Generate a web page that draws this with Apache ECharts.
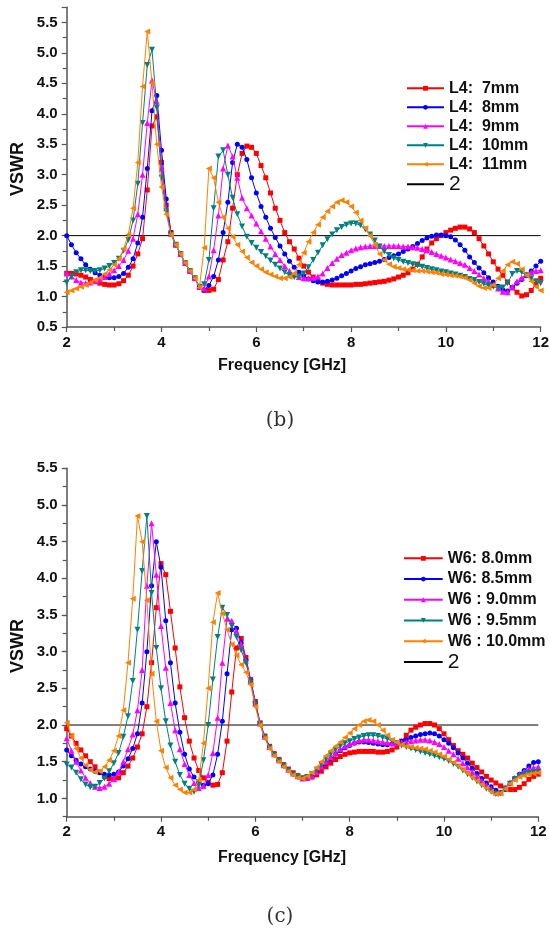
<!DOCTYPE html>
<html><head><meta charset="utf-8">
<script src="https://cdn.jsdelivr.net/npm/echarts@6/dist/echarts.min.js"></script>
<style>html,body{margin:0;padding:0;background:#fff}#c{width:550px;height:929px}</style>
</head><body><div id="c"></div>
<script>
// ---------- data ----------
const freq = [2.0,2.1,2.2,2.3,2.4,2.5,2.6,2.7,2.8,2.9,3.0,3.1,3.2,3.3,3.4,3.5,3.6,3.7,3.8,3.9,4.0,4.1,4.2,4.3,4.4,4.5,4.6,4.7,4.8,4.9,5.0,5.1,5.2,5.3,5.4,5.5,5.6,5.7,5.8,5.9,6.0,6.1,6.2,6.3,6.4,6.5,6.6,6.7,6.8,6.9,7.0,7.1,7.2,7.3,7.4,7.5,7.6,7.7,7.8,7.9,8.0,8.1,8.2,8.3,8.4,8.5,8.6,8.7,8.8,8.9,9.0,9.1,9.2,9.3,9.4,9.5,9.6,9.7,9.8,9.9,10.0,10.1,10.2,10.3,10.4,10.5,10.6,10.7,10.8,10.9,11.0,11.1,11.2,11.3,11.4,11.5,11.6,11.7,11.8,11.9,12.0];
const xTickLabels = [2,4,6,8,10,12];
const yTicksB = [0.5,1.0,1.5,2.0,2.5,3.0,3.5,4.0,4.5,5.0,5.5];
const yTicksC = [1.0,1.5,2.0,2.5,3.0,3.5,4.0,4.5,5.0,5.5];
const refLevel = 2;
const namesB = ['L4:  7mm','L4:  8mm','L4:  9mm','L4:  10mm','L4:  11mm'];
const namesC = ['W6: 8.0mm','W6: 8.5mm','W6 : 9.0mm','W6 : 9.5mm','W6 : 10.0mm'];
const refName = '2';

// (b) VSWR vs frequency for L4
const b_L4_7 = [1.38,1.38,1.37,1.35,1.32,1.28,1.25,1.22,1.20,1.19,1.19,1.21,1.26,1.35,1.50,1.70,1.95,2.75,3.80,3.95,3.20,2.50,2.05,1.85,1.70,1.55,1.42,1.30,1.15,1.10,1.10,1.12,1.28,1.60,1.90,2.45,3.00,3.35,3.47,3.45,3.35,3.15,2.95,2.70,2.45,2.25,2.05,1.90,1.78,1.63,1.50,1.40,1.32,1.26,1.22,1.20,1.19,1.19,1.19,1.19,1.19,1.20,1.20,1.21,1.22,1.23,1.24,1.25,1.27,1.29,1.32,1.35,1.39,1.45,1.53,1.65,1.78,1.88,1.95,2.00,2.05,2.09,2.12,2.14,2.14,2.11,2.05,1.95,1.83,1.70,1.57,1.45,1.35,1.24,1.14,1.07,1.01,1.03,1.10,1.20,1.30];
const b_L4_8 = [2.00,1.85,1.72,1.62,1.52,1.45,1.39,1.35,1.32,1.31,1.31,1.33,1.38,1.48,1.62,1.88,2.30,3.10,4.05,4.30,3.40,2.60,2.05,1.85,1.70,1.55,1.42,1.30,1.16,1.11,1.18,1.33,1.60,2.05,2.55,3.20,3.50,3.45,3.25,2.95,2.70,2.48,2.30,2.12,1.97,1.83,1.70,1.58,1.48,1.40,1.34,1.29,1.26,1.24,1.24,1.25,1.27,1.30,1.34,1.38,1.42,1.46,1.49,1.52,1.54,1.56,1.58,1.61,1.64,1.67,1.70,1.74,1.78,1.82,1.87,1.92,1.96,1.99,2.01,2.01,2.00,1.98,1.93,1.85,1.76,1.65,1.56,1.47,1.39,1.31,1.24,1.17,1.11,1.09,1.15,1.22,1.28,1.34,1.42,1.50,1.58];
const b_L4_9 = [1.38,1.33,1.27,1.23,1.22,1.23,1.25,1.28,1.32,1.37,1.43,1.50,1.60,1.75,1.95,2.35,3.00,3.85,4.55,4.20,3.10,2.45,2.03,1.85,1.70,1.55,1.42,1.30,1.16,1.13,1.33,1.76,2.33,3.10,3.48,3.30,2.95,2.62,2.45,2.33,2.20,2.07,1.95,1.82,1.70,1.60,1.50,1.42,1.36,1.32,1.30,1.30,1.31,1.33,1.38,1.47,1.55,1.62,1.68,1.72,1.76,1.79,1.81,1.82,1.83,1.83,1.83,1.83,1.83,1.83,1.83,1.82,1.82,1.81,1.80,1.78,1.76,1.73,1.70,1.67,1.64,1.61,1.58,1.55,1.52,1.47,1.42,1.36,1.30,1.25,1.19,1.13,1.08,1.07,1.16,1.25,1.31,1.36,1.40,1.42,1.43];
const b_L4_10 = [1.23,1.33,1.40,1.43,1.43,1.42,1.42,1.43,1.46,1.50,1.55,1.62,1.75,1.93,2.25,2.85,3.85,4.80,5.05,4.10,2.95,2.40,2.02,1.85,1.70,1.55,1.42,1.30,1.16,1.20,1.60,2.45,3.30,3.40,3.00,2.62,2.35,2.15,1.98,1.88,1.80,1.73,1.66,1.59,1.52,1.46,1.40,1.35,1.32,1.33,1.38,1.48,1.60,1.72,1.84,1.94,2.02,2.09,2.14,2.18,2.20,2.20,2.17,2.10,2.02,1.92,1.82,1.74,1.68,1.63,1.60,1.57,1.55,1.53,1.51,1.49,1.47,1.45,1.43,1.41,1.40,1.38,1.36,1.34,1.32,1.29,1.27,1.24,1.21,1.18,1.16,1.14,1.15,1.22,1.37,1.42,1.40,1.35,1.30,1.25,1.22];
const b_L4_11 = [1.07,1.10,1.13,1.16,1.19,1.23,1.27,1.31,1.37,1.44,1.52,1.62,1.78,2.02,2.45,3.20,4.45,5.35,4.50,3.50,2.80,2.35,2.02,1.85,1.70,1.55,1.42,1.30,1.15,1.80,3.10,2.95,2.55,2.30,2.12,1.98,1.85,1.74,1.64,1.56,1.50,1.45,1.40,1.36,1.33,1.30,1.30,1.32,1.38,1.52,1.72,1.90,2.05,2.18,2.30,2.40,2.48,2.55,2.58,2.55,2.48,2.38,2.25,2.12,2.00,1.85,1.70,1.60,1.53,1.49,1.47,1.45,1.44,1.43,1.42,1.42,1.41,1.40,1.39,1.37,1.36,1.35,1.34,1.33,1.31,1.27,1.22,1.17,1.14,1.14,1.19,1.30,1.42,1.52,1.57,1.54,1.45,1.35,1.25,1.16,1.10];

// (c) VSWR vs frequency for W6
const c_W6_80 = [1.95,1.85,1.75,1.66,1.58,1.50,1.43,1.36,1.30,1.27,1.26,1.28,1.35,1.44,1.55,1.70,1.88,2.25,2.85,3.60,4.20,4.05,3.55,3.05,2.52,2.10,1.78,1.55,1.38,1.28,1.22,1.18,1.19,1.35,1.78,2.45,3.05,3.18,2.92,2.62,2.32,2.03,1.85,1.71,1.61,1.53,1.46,1.40,1.35,1.31,1.28,1.27,1.29,1.32,1.37,1.43,1.48,1.53,1.57,1.60,1.62,1.63,1.64,1.64,1.64,1.64,1.63,1.63,1.64,1.66,1.70,1.78,1.86,1.93,1.97,2.00,2.02,2.02,2.00,1.95,1.88,1.80,1.72,1.65,1.60,1.55,1.48,1.42,1.36,1.30,1.25,1.21,1.17,1.14,1.12,1.12,1.15,1.20,1.26,1.30,1.33];
const c_W6_85 = [1.66,1.58,1.52,1.47,1.43,1.40,1.37,1.35,1.33,1.32,1.33,1.36,1.44,1.54,1.68,1.88,2.30,3.00,3.90,4.50,4.15,3.42,2.85,2.30,1.90,1.60,1.40,1.29,1.22,1.18,1.20,1.32,1.60,2.05,2.70,3.30,3.32,3.12,2.88,2.60,2.30,2.02,1.84,1.70,1.60,1.52,1.45,1.39,1.34,1.30,1.27,1.28,1.31,1.36,1.42,1.48,1.54,1.60,1.65,1.69,1.72,1.75,1.77,1.77,1.76,1.75,1.74,1.73,1.73,1.74,1.75,1.78,1.80,1.83,1.85,1.87,1.88,1.89,1.88,1.85,1.80,1.75,1.69,1.62,1.55,1.48,1.41,1.34,1.27,1.21,1.16,1.11,1.08,1.12,1.20,1.27,1.33,1.38,1.44,1.49,1.50];
const c_W6_90 = [1.82,1.65,1.50,1.38,1.28,1.21,1.16,1.14,1.16,1.20,1.26,1.36,1.50,1.67,1.87,2.20,2.75,3.90,4.75,4.05,3.35,2.78,2.30,1.93,1.67,1.47,1.32,1.21,1.14,1.17,1.32,1.62,2.10,2.85,3.45,3.42,3.28,3.10,2.88,2.60,2.30,2.02,1.84,1.70,1.60,1.52,1.45,1.39,1.34,1.30,1.27,1.28,1.31,1.36,1.43,1.50,1.56,1.62,1.67,1.71,1.74,1.77,1.79,1.80,1.80,1.79,1.78,1.77,1.76,1.75,1.75,1.76,1.77,1.78,1.79,1.80,1.80,1.79,1.77,1.74,1.70,1.65,1.60,1.54,1.48,1.42,1.36,1.30,1.24,1.18,1.13,1.08,1.08,1.14,1.22,1.28,1.33,1.37,1.40,1.42,1.43];
const c_W6_95 = [1.46,1.42,1.35,1.26,1.19,1.15,1.16,1.21,1.27,1.37,1.48,1.62,1.84,2.12,2.60,3.30,4.10,4.85,3.80,3.05,2.50,2.05,1.72,1.50,1.32,1.20,1.13,1.09,1.18,1.52,2.00,2.62,3.20,3.60,3.50,3.35,3.20,3.02,2.85,2.58,2.28,2.01,1.83,1.69,1.59,1.51,1.44,1.38,1.33,1.29,1.27,1.29,1.33,1.39,1.46,1.53,1.60,1.66,1.71,1.75,1.78,1.81,1.83,1.85,1.86,1.86,1.85,1.83,1.81,1.78,1.75,1.72,1.70,1.68,1.66,1.64,1.62,1.60,1.58,1.56,1.54,1.51,1.47,1.43,1.38,1.33,1.28,1.23,1.18,1.13,1.09,1.06,1.07,1.13,1.20,1.26,1.30,1.33,1.35,1.36,1.36];
const c_W6_100 = [2.03,1.85,1.68,1.55,1.45,1.39,1.36,1.37,1.43,1.52,1.65,1.85,2.20,2.85,3.72,4.85,4.50,3.70,2.70,2.05,1.65,1.42,1.28,1.18,1.12,1.08,1.08,1.12,1.25,1.75,2.50,3.40,3.80,3.52,3.30,3.10,2.95,2.82,2.72,2.55,2.25,2.00,1.82,1.68,1.58,1.50,1.43,1.37,1.32,1.28,1.27,1.30,1.35,1.42,1.50,1.58,1.65,1.71,1.77,1.83,1.89,1.95,2.00,2.05,2.07,2.05,2.00,1.93,1.86,1.80,1.76,1.73,1.71,1.70,1.69,1.68,1.67,1.65,1.63,1.60,1.57,1.53,1.49,1.44,1.39,1.34,1.29,1.24,1.19,1.14,1.09,1.06,1.07,1.13,1.20,1.25,1.29,1.31,1.33,1.34,1.35];

// ---------- styling ----------
const colors = ['#ff0000','#0000ff','#ff00ff','#008080','#ff8000'];
const symbols = ['rect','circle','triangle','triangle','triangle'];
const rotates = [0,0,0,180,90];
const sizes = [5,5,6,6,6];
const FONT = 'Arial, "Liberation Sans", sans-serif';
const axisCol = '#555';

function pairs(ys){ return freq.map((f,i)=>[f, ys[i]]); }

function curve(name, ys, k, gi){
  return {
    name, type:'line', xAxisIndex:gi, yAxisIndex:gi,
    data: pairs(ys), symbol: symbols[k], symbolSize: sizes[k], symbolRotate: rotates[k],
    showAllSymbol:true, itemStyle:{color:colors[k]}, lineStyle:{color:colors[k], width:1},
    emphasis:{disabled:true}, animation:false, z: 3 + k
  };
}
function refLine(gi){
  return { name: refName, type:'line', xAxisIndex:gi, yAxisIndex:gi,
    data: [[freq[0], refLevel],[freq[freq.length-1], refLevel]],
    symbol:'none', itemStyle:{color:'#000'}, lineStyle:{color:'#000', width:1},
    emphasis:{disabled:true}, animation:false, z: 2 };
}
function xAxis(gi){
  return { type:'value', gridIndex:gi, min:2, max:12, interval:2,
    axisLine:{lineStyle:{color:axisCol, width:1.5}},
    axisTick:{inside:false, length:5, lineStyle:{color:axisCol, width:1.2}},
    minorTick:{show:true, splitNumber:2, length:4, lineStyle:{color:axisCol, width:1.2}},
    splitLine:{show:false},
    axisLabel:{margin:8, color:'#111', fontWeight:'bold', fontSize:15, fontFamily:FONT,
      customValues: xTickLabels, formatter: v => String(v)} };
}

const legendText = {fontFamily:FONT, fontWeight:'bold', fontSize:16, color:'#111'};
function legend(names, left, top, lh, iw){
  return { orient:'vertical', left, top, padding:0, itemGap:0, itemWidth:iw, itemHeight:6,
    selectedMode:false, textStyle:Object.assign({lineHeight:lh}, legendText),
    data: names.map(n=>({name:n})).concat([{name:refName, itemStyle:{opacity:0}, textStyle:{fontWeight:'normal', fontSize:21, lineHeight:lh, fontFamily:FONT, color:'#111'}}]) };
}

const option = {
  backgroundColor:'#fff', animation:false,
  grid:[
    {left:66.7, top:7.2, width:474, height:319.8, outerBoundsMode:'none'},
    {left:66.7, top:468.3, width:471.6, height:348.4, outerBoundsMode:'none'}
  ],
  xAxis:[xAxis(0), xAxis(1)],
  yAxis:[
    { type:'value', gridIndex:0, position:'left', min:0.5, max:5.75, interval:0.5,
      axisLine:{show:true, lineStyle:{color:axisCol, width:1.5}},
      axisTick:{show:true, length:5, lineStyle:{color:axisCol, width:1.2}},
      minorTick:{show:true, splitNumber:2, length:4, lineStyle:{color:axisCol, width:1.2}},
      splitLine:{show:false},
      axisLabel:{margin:9, color:'#111', fontWeight:'bold', fontSize:15, fontFamily:FONT,
        customValues:yTicksB, formatter: v => v.toFixed(1)} },
    { type:'value', gridIndex:1, position:'left', min:0.75, max:5.5, interval:0.25,
      axisLine:{show:true, lineStyle:{color:axisCol, width:1.5}},
      axisTick:{show:true, length:5, customValues:yTicksC, lineStyle:{color:axisCol, width:1.2}},
      splitLine:{show:false},
      axisLabel:{margin:9, color:'#111', fontWeight:'bold', fontSize:15, fontFamily:FONT,
        customValues:yTicksC, formatter: v => v.toFixed(1)} },
    { type:'value', gridIndex:1, position:'left', offset:0, min:0.75, max:5.5, interval:0.25,
      axisLine:{show:false}, axisLabel:{show:false}, splitLine:{show:false},
      axisTick:{show:true, length:4, lineStyle:{color:axisCol, width:1.2}} }
  ],
  legend:[ legend(namesB, 406, 78.8, 19, 37), legend(namesC, 403, 548, 20.7, 38.7) ],
  series:[
    refLine(0),
    curve(namesB[0], b_L4_7, 0, 0), curve(namesB[1], b_L4_8, 1, 0), curve(namesB[2], b_L4_9, 2, 0),
    curve(namesB[3], b_L4_10, 3, 0), curve(namesB[4], b_L4_11, 4, 0),
    refLine(1),
    curve(namesC[0], c_W6_80, 0, 1), curve(namesC[1], c_W6_85, 1, 1), curve(namesC[2], c_W6_90, 2, 1),
    curve(namesC[3], c_W6_95, 3, 1), curve(namesC[4], c_W6_100, 4, 1)
  ],
  graphic:[
    {type:'text', x:18.5, y:169, rotation:Math.PI/2, style:{text:'VSWR', fontFamily:FONT, fontWeight:'bold', fontSize:18, fill:'#111', align:'center', verticalAlign:'middle'}},
    {type:'text', x:18.5, y:646, rotation:Math.PI/2, style:{text:'VSWR', fontFamily:FONT, fontWeight:'bold', fontSize:18, fill:'#111', align:'center', verticalAlign:'middle'}},
    {type:'text', x:282, y:366, style:{text:'Frequency [GHz]', fontFamily:FONT, fontWeight:'bold', fontSize:16, fill:'#111', align:'center', verticalAlign:'middle'}},
    {type:'text', x:282, y:858, style:{text:'Frequency [GHz]', fontFamily:FONT, fontWeight:'bold', fontSize:16, fill:'#111', align:'center', verticalAlign:'middle'}},
    {type:'text', x:280, y:421, style:{text:'(b)', fontFamily:'"DejaVu Serif", "Liberation Serif", serif', fontSize:20, fill:'#333', align:'center', verticalAlign:'middle'}},
    {type:'text', x:280, y:917, style:{text:'(c)', fontFamily:'"DejaVu Serif", "Liberation Serif", serif', fontSize:20, fill:'#333', align:'center', verticalAlign:'middle'}}
  ]
};
const chart = echarts.init(document.getElementById('c'), null, {renderer:'canvas'});
chart.setOption(option);
</script></body></html>
